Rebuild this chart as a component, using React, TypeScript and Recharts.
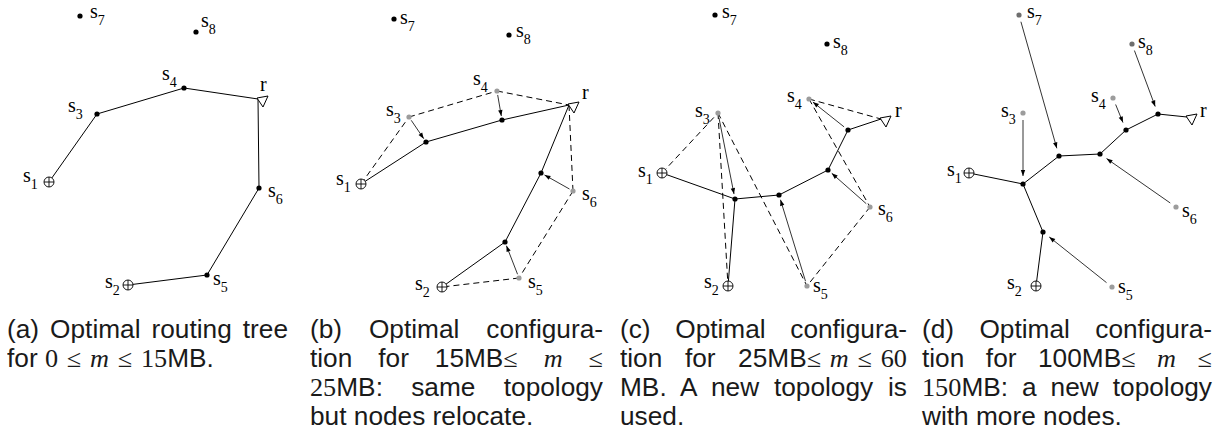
import React from 'react'
import { ScatterChart, Scatter, XAxis, YAxis } from 'recharts'

const W = 1214
const H = 310

type Kind = 'dot' | 'gray' | 'dark' | 'plus' | 'root'
type Node = { id: string; x: number; y: number; kind: Kind }
type Label = { x: number; y: number; text: string; sub?: string }

// (a) routing tree, 0 <= m <= 15MB
const aNodes: Node[] = [
  { id: 's1', x: 49, y: 182, kind: 'plus' },
  { id: 's2', x: 128, y: 285, kind: 'plus' },
  { id: 's3', x: 97, y: 114, kind: 'dot' },
  { id: 's4', x: 184, y: 88, kind: 'dot' },
  { id: 's5', x: 207, y: 275, kind: 'dot' },
  { id: 's6', x: 259, y: 188, kind: 'dot' },
  { id: 's7', x: 80, y: 16, kind: 'dot' },
  { id: 's8', x: 196, y: 32, kind: 'dot' },
  { id: 'r', x: 258, y: 99, kind: 'root' },
]
const aSolid = [['s1', 's3'], ['s3', 's4'], ['s4', 'r'], ['r', 's6'], ['s6', 's5'], ['s5', 's2']]
const aLabels: Label[] = [
  { x: 23, y: 182, text: 's', sub: '1' },
  { x: 105, y: 288, text: 's', sub: '2' },
  { x: 68, y: 112, text: 's', sub: '3' },
  { x: 162, y: 80, text: 's', sub: '4' },
  { x: 213, y: 285, text: 's', sub: '5' },
  { x: 268, y: 197, text: 's', sub: '6' },
  { x: 90, y: 18, text: 's', sub: '7' },
  { x: 201, y: 27, text: 's', sub: '8' },
  { x: 260, y: 91, text: 'r' },
]

// (b) same topology, nodes relocate
const bNodes: Node[] = [
  { id: 's1', x: 361, y: 184, kind: 'plus' },
  { id: 's2', x: 442, y: 287, kind: 'plus' },
  { id: 's3', x: 409, y: 117, kind: 'gray' },
  { id: 's4', x: 497, y: 91, kind: 'gray' },
  { id: 's5', x: 519, y: 278, kind: 'gray' },
  { id: 's6', x: 573, y: 191, kind: 'gray' },
  { id: 's7', x: 394, y: 19, kind: 'dot' },
  { id: 's8', x: 509, y: 35, kind: 'dot' },
  { id: 'r', x: 569, y: 105, kind: 'root' },
  { id: 'n1', x: 426, y: 142, kind: 'dot' },
  { id: 'n2', x: 502, y: 120, kind: 'dot' },
  { id: 'n3', x: 541, y: 173, kind: 'dot' },
  { id: 'n4', x: 505, y: 242, kind: 'dot' },
]
const bSolid = [['s1', 'n1'], ['n1', 'n2'], ['n2', 'r'], ['r', 'n3'], ['n3', 'n4'], ['n4', 's2']]
const bDashed = [['s1', 's3'], ['s3', 's4'], ['s4', 'r'], ['r', 's6'], ['s6', 's5'], ['s5', 's2']]
const bArrows = [['s3', 'n1'], ['s4', 'n2'], ['s6', 'n3'], ['s5', 'n4']]
const bLabels: Label[] = [
  { x: 336, y: 185, text: 's', sub: '1' },
  { x: 415, y: 290, text: 's', sub: '2' },
  { x: 386, y: 116, text: 's', sub: '3' },
  { x: 473, y: 85, text: 's', sub: '4' },
  { x: 528, y: 288, text: 's', sub: '5' },
  { x: 582, y: 200, text: 's', sub: '6' },
  { x: 400, y: 24, text: 's', sub: '7' },
  { x: 516, y: 37, text: 's', sub: '8' },
  { x: 582, y: 99, text: 'r' },
]

// (c) new topology
const cNodes: Node[] = [
  { id: 's1', x: 662, y: 173, kind: 'plus' },
  { id: 's2', x: 728, y: 286, kind: 'plus' },
  { id: 's3', x: 718, y: 113, kind: 'gray' },
  { id: 's4', x: 809, y: 99, kind: 'gray' },
  { id: 's5', x: 807, y: 286, kind: 'gray' },
  { id: 's6', x: 870, y: 207, kind: 'gray' },
  { id: 's7', x: 715, y: 15, kind: 'dot' },
  { id: 's8', x: 827, y: 44, kind: 'dot' },
  { id: 'r', x: 881, y: 119, kind: 'root' },
  { id: 'n1', x: 735, y: 199, kind: 'dot' },
  { id: 'n2', x: 779, y: 195, kind: 'dot' },
  { id: 'n3', x: 828, y: 170, kind: 'dot' },
  { id: 'n4', x: 848, y: 130, kind: 'dot' },
]
const cSolid = [['s1', 'n1'], ['n1', 's2'], ['n1', 'n2'], ['n2', 'n3'], ['n3', 'n4'], ['n4', 'r']]
const cDashed = [['s1', 's3'], ['s3', 's2'], ['s3', 's5'], ['s4', 'r'], ['s4', 's6'], ['s6', 's5']]
const cArrows = [['s3', 'n1'], ['s5', 'n2'], ['s6', 'n3'], ['n4', 's4']]
const cLabels: Label[] = [
  { x: 638, y: 177, text: 's', sub: '1' },
  { x: 704, y: 288, text: 's', sub: '2' },
  { x: 695, y: 117, text: 's', sub: '3' },
  { x: 787, y: 102, text: 's', sub: '4' },
  { x: 813, y: 292, text: 's', sub: '5' },
  { x: 878, y: 215, text: 's', sub: '6' },
  { x: 722, y: 18, text: 's', sub: '7' },
  { x: 833, y: 48, text: 's', sub: '8' },
  { x: 895, y: 117, text: 'r' },
]

// (d) new topology with more nodes
const dNodes: Node[] = [
  { id: 's1', x: 969, y: 173, kind: 'plus' },
  { id: 's2', x: 1036, y: 286, kind: 'plus' },
  { id: 's3', x: 1023, y: 113, kind: 'gray' },
  { id: 's4', x: 1113, y: 98, kind: 'gray' },
  { id: 's5', x: 1112, y: 287, kind: 'gray' },
  { id: 's6', x: 1176, y: 207, kind: 'gray' },
  { id: 's7', x: 1019, y: 15, kind: 'dark' },
  { id: 's8', x: 1132, y: 44, kind: 'dark' },
  { id: 'r', x: 1187, y: 117, kind: 'root' },
  { id: 'n1', x: 1023, y: 184, kind: 'dot' },
  { id: 'n2', x: 1059, y: 156, kind: 'dot' },
  { id: 'n3', x: 1100, y: 154, kind: 'dot' },
  { id: 'n4', x: 1126, y: 130, kind: 'dot' },
  { id: 'n5', x: 1158, y: 114, kind: 'dot' },
  { id: 'n6', x: 1043, y: 232, kind: 'dot' },
]
const dSolid = [['s1', 'n1'], ['n1', 'n2'], ['n2', 'n3'], ['n3', 'n4'], ['n4', 'n5'], ['n5', 'r'], ['n1', 'n6'], ['n6', 's2']]
const dArrows = [['s7', 'n2'], ['s8', 'n5'], ['s4', 'n4'], ['s3', 'n1'], ['s6', 'n3'], ['s5', 'n6']]
const dLabels: Label[] = [
  { x: 947, y: 176, text: 's', sub: '1' },
  { x: 1007, y: 289, text: 's', sub: '2' },
  { x: 1001, y: 117, text: 's', sub: '3' },
  { x: 1091, y: 102, text: 's', sub: '4' },
  { x: 1118, y: 293, text: 's', sub: '5' },
  { x: 1182, y: 217, text: 's', sub: '6' },
  { x: 1027, y: 18, text: 's', sub: '7' },
  { x: 1138, y: 48, text: 's', sub: '8' },
  { x: 1200, y: 117, text: 'r' },
]

// captions, text between $ is math
const aCaption = ['(a) Optimal routing tree', 'for $0 ≤ m ≤ 15$MB.']
const bCaption = ['(b) Optimal configura-', 'tion for 15MB$≤$ $m$ $≤$', '$25$MB: same topology', 'but nodes relocate.']
const cCaption = ['(c) Optimal configura-', 'tion for 25MB$≤ m ≤ 60$', 'MB. A new topology is', 'used.']
const dCaption = ['(d) Optimal configura-', 'tion for 100MB$≤$ $m$ $≤$', '$150$MB: a new topology', 'with more nodes.']

const panels = [
  { nodes: aNodes, solid: aSolid, dashed: [] as string[][], arrows: [] as string[][], labels: aLabels, gap: [4, 5] },
  { nodes: bNodes, solid: bSolid, dashed: bDashed, arrows: bArrows, labels: bLabels, gap: [4, 4] },
  { nodes: cNodes, solid: cSolid, dashed: cDashed, arrows: cArrows, labels: cLabels, gap: [5, 5] },
  { nodes: dNodes, solid: dSolid, dashed: [] as string[][], arrows: dArrows, labels: dLabels, gap: [7, 8] },
]

type Pt = { x: number; y: number }
const segs: { a: Pt; b: Pt; dashed: boolean; thin?: boolean }[] = []
const heads: { x: number; y: number; ang: number }[] = []
const allNodes: Node[] = []
const allLabels: Label[] = []

panels.forEach((p) => {
  const at = (id: string) => p.nodes.find((n) => n.id === id) as Node
  p.dashed.forEach(([u, v]) => segs.push({ a: at(u), b: at(v), dashed: true }))
  p.solid.forEach(([u, v]) => segs.push({ a: at(u), b: at(v), dashed: false }))
  p.arrows.forEach(([u, v]) => {
    const a = at(u)
    const b = at(v)
    const dx = b.x - a.x
    const dy = b.y - a.y
    const len = Math.hypot(dx, dy)
    const ux = dx / len
    const uy = dy / len
    const s = { x: a.x + ux * p.gap[0], y: a.y + uy * p.gap[0] }
    const e = { x: b.x - ux * p.gap[1], y: b.y - uy * p.gap[1] }
    segs.push({ a: s, b: e, dashed: false, thin: true })
    heads.push({ x: e.x, y: e.y, ang: Math.atan2(dy, dx) })
  })
  allNodes.push(...p.nodes)
  allLabels.push(...p.labels)
})

const Empty = () => <g />

const NodeShape = (props: any) => {
  const { cx, cy, payload } = props
  if (payload.kind === 'plus') {
    return (
      <g stroke="#000" strokeWidth={0.9}>
        <circle cx={cx} cy={cy} r={5} fill="#fff" />
        <line x1={cx - 5} y1={cy} x2={cx + 5} y2={cy} />
        <line x1={cx} y1={cy - 5} x2={cx} y2={cy + 5} />
      </g>
    )
  }
  if (payload.kind === 'root') {
    const pts = [[-1, -1], [10, -3], [5, 8]].map(([dx, dy]) => `${cx + dx},${cy + dy}`).join(' ')
    return <polygon points={pts} fill="#fff" stroke="#000" strokeWidth={1} />
  }
  const fill = payload.kind === 'gray' ? '#9c9c9c' : payload.kind === 'dark' ? '#6e6e6e' : '#000'
  return <circle cx={cx} cy={cy} r={2.6} fill={fill} />
}

const HeadShape = (props: any) => {
  const { cx, cy, payload } = props
  const a = payload.ang
  const L = 6
  const w = 2.2
  const bx = cx - Math.cos(a) * L
  const by = cy - Math.sin(a) * L
  const px = -Math.sin(a) * w
  const py = Math.cos(a) * w
  return <polygon points={`${cx},${cy} ${bx + px},${by + py} ${bx - px},${by - py}`} fill="#000" />
}

const LabelShape = (props: any) => {
  const { cx, cy, payload } = props
  return (
    <text x={cx} y={cy} fontFamily='"Liberation Serif", serif' fontSize={20} fill="#000">
      {payload.text}
      {payload.sub && (
        <tspan dy={7} fontSize={14}>
          {payload.sub}
        </tspan>
      )}
    </text>
  )
}

function renderLine(line: string) {
  return line.split('$').map((part, i) => {
    if (i % 2 === 0) return <span key={i}>{part}</span>
    return (
      <span key={i} style={{ fontFamily: '"Liberation Serif", serif' }}>
        {part.split('').map((ch, j) =>
          ch === 'm' ? <i key={j}>m</i> : ch === ' ' ? <span key={j}>{'\u2004'}</span> : <span key={j}>{ch}</span>
        )}
      </span>
    )
  })
}

const STRETCH = 1.05

function Caption({ lines, left, width }: { lines: string[]; left: number; width: number }) {
  return (
    <div
      style={{
        position: 'absolute',
        left,
        top: 315,
        width: width / STRETCH,
        transform: `scaleX(${STRETCH})`,
        transformOrigin: '0 0',
        fontFamily: '"Liberation Sans", Arial, sans-serif',
        fontSize: 25,
        lineHeight: '29px',
        color: '#1a1a1a',
      }}
    >
      {lines.map((l, i) => {
        const last = i === lines.length - 1
        return (
          <div key={i} style={{ textAlign: last ? 'left' : 'justify', textAlignLast: last ? 'left' : 'justify' }}>
            {renderLine(l)}
          </div>
        )
      })}
    </div>
  )
}

export default function App() {
  return (
    <div style={{ position: 'absolute', left: 0, top: 0, width: W, height: 437, background: '#fff' }}>
      <ScatterChart width={W} height={H} margin={{ top: 0, right: 0, bottom: 0, left: 0 }}>
        <XAxis type="number" dataKey="x" domain={[0, W]} hide allowDataOverflow />
        <YAxis type="number" dataKey="y" domain={[0, H]} reversed hide allowDataOverflow />
        {segs.map((s, i) => (
          <Scatter
            key={`seg${i}`}
            data={[s.a, s.b]}
            fill="#000"
            line={{ stroke: '#000', strokeWidth: s.thin ? 0.8 : 1, strokeDasharray: s.dashed ? '6 4' : undefined }}
            shape={Empty}
            isAnimationActive={false}
          />
        ))}
        <Scatter data={allNodes} shape={NodeShape} isAnimationActive={false} />
        <Scatter data={heads} shape={HeadShape} isAnimationActive={false} />
        <Scatter data={allLabels} shape={LabelShape} isAnimationActive={false} />
      </ScatterChart>
      <Caption lines={aCaption} left={7} width={281} />
      <Caption lines={bCaption} left={310} width={293} />
      <Caption lines={cCaption} left={620} width={287} />
      <Caption lines={dCaption} left={922} width={290} />
    </div>
  )
}
